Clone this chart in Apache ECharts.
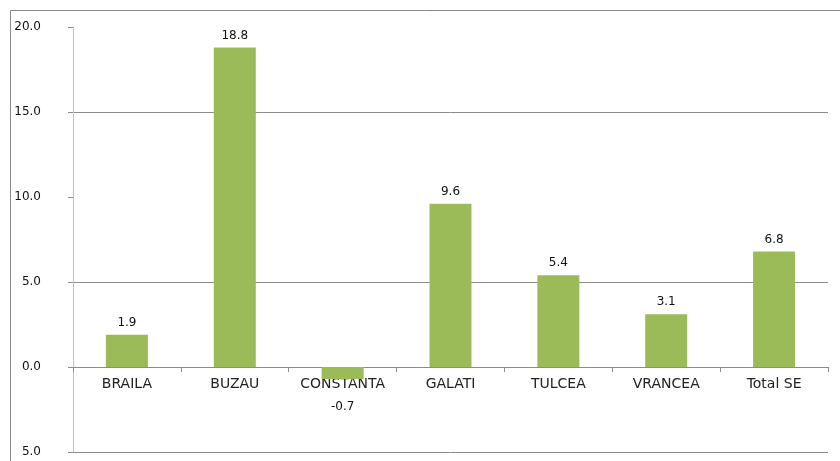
<!DOCTYPE html>
<html>
<head>
<meta charset="utf-8">
<script src="https://cdn.jsdelivr.net/npm/echarts@6/dist/echarts.min.js"></script>
<style>
  html, body { margin: 0; padding: 0; background: #fff; }
  #chart { width: 840px; height: 461px; }
</style>
</head>
<body>
<div id="chart"></div>
<script>
var categories = ['BRAILA', 'BUZAU', 'CONSTANTA', 'GALATI', 'TULCEA', 'VRANCEA', 'Total SE'];
var values = [1.9, 18.8, -0.7, 9.6, 5.4, 3.1, 6.8];
// tick labels as printed in the picture, from min upwards
var yTickLabels = ['5.0', '0.0', '5.0', '10.0', '15.0', '20.0'];

var chart = echarts.init(document.getElementById('chart'));
var font = 'DejaVu Sans';

var barData = values.map(function (v) {
  if (v < 0) {
    return { value: v, label: { position: 'bottom', distance: 22 } };
  }
  return v;
});

var option = {
  animation: false,
  graphic: [{
    type: 'rect',
    shape: { x: 10.5, y: 10.5, width: 860, height: 480 },
    style: { fill: 'none', stroke: '#8a8a8a', lineWidth: 1 }
  }],
  grid: {
    left: 73,
    right: 12,
    top: 27,
    bottom: 9,
    outerBoundsMode: 'none'
  },
  xAxis: {
    type: 'category',
    data: categories,
    position: 'bottom',
    offset: -85,   // puts the category axis on the zero line
    axisLine: { onZero: false, lineStyle: { color: '#8c8c8c' } },
    axisTick: { show: true, length: 5, lineStyle: { color: '#8c8c8c' } },
    axisLabel: {
      interval: 0,
      hideOverlap: false,
      color: '#222',
      fontFamily: font,
      fontSize: 14,
      margin: 10
    }
  },
  yAxis: {
    type: 'value',
    min: -5,
    max: 20,
    interval: 5,
    axisLine: { show: true, lineStyle: { color: '#c0c0c0' } },
    axisTick: { show: true, length: 5, lineStyle: { color: '#8c8c8c' } },
    splitLine: {
      show: true,
      lineStyle: { color: ['#8c8c8c', '#8c8c8c', '#8c8c8c', 'transparent', '#8c8c8c', 'transparent'] }
    },
    axisLabel: {
      color: '#111',
      fontFamily: font,
      fontSize: 12,
      margin: 32,
      formatter: function (v) {
        return yTickLabels[Math.round((v + 5) / 5)];
      }
    }
  },
  series: [{
    type: 'bar',
    data: barData,
    barWidth: 42,
    itemStyle: { color: '#9bbb59' },
    label: {
      show: true,
      position: 'top',
      distance: 6,
      color: '#111',
      fontFamily: font,
      fontSize: 12,
      formatter: function (p) { return p.value.toFixed(1); }
    }
  }]
};

chart.setOption(option);
</script>
</body>
</html>
